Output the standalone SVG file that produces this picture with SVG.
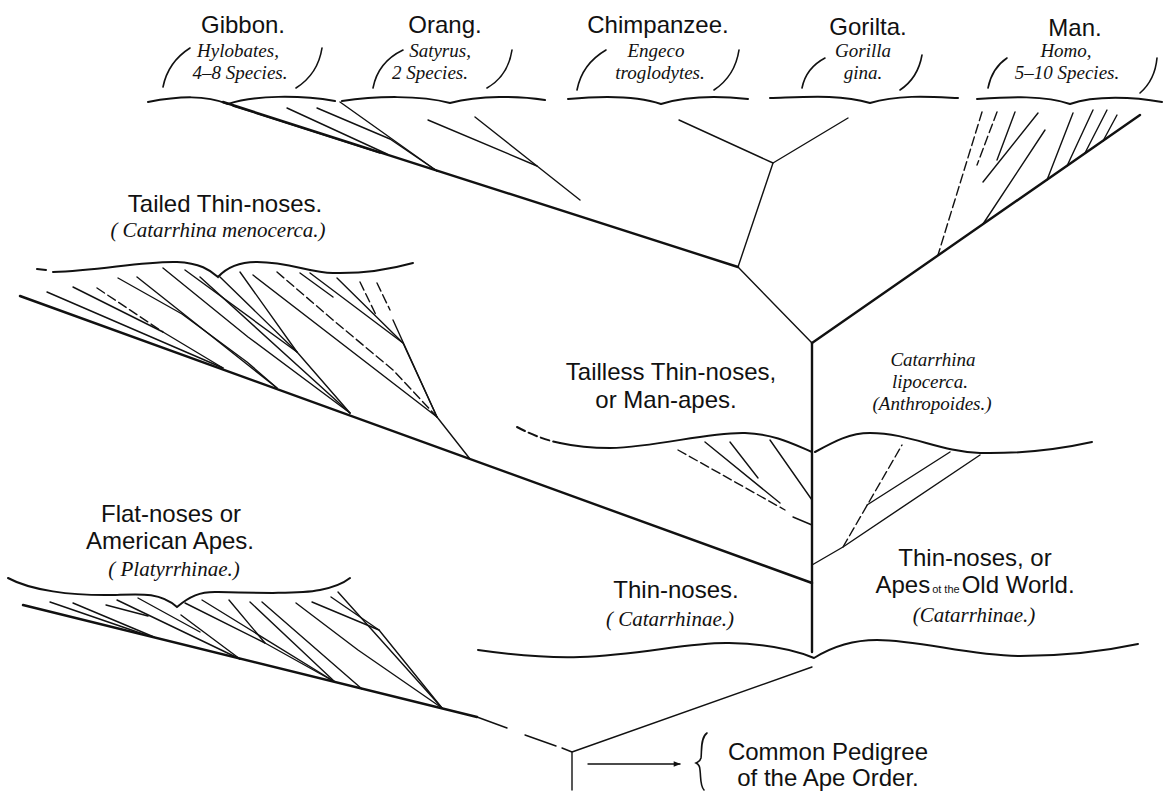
<svg xmlns="http://www.w3.org/2000/svg" width="1165" height="791" viewBox="0 0 1165 791">
<defs>
<style>
.lbl{font-family:"Liberation Sans",Arial,sans-serif;font-size:24px;fill:#111;text-anchor:middle}
.it{font-family:"Liberation Serif","Times New Roman",serif;font-style:italic;font-size:21px;fill:#111;text-anchor:middle}
.sm{font-size:19px}
.ln{fill:none;stroke:#111;stroke-width:1.4;stroke-linecap:round;stroke-linejoin:round}
.th{stroke-width:2.4}
.br{fill:none;stroke:#111;stroke-width:2;stroke-linecap:round}
.pa{fill:none;stroke:#111;stroke-width:1.6;stroke-linecap:round}
.dsh{stroke-dasharray:9 4}
</style>
<marker id="ah" viewBox="0 0 10 10" refX="9" refY="5" markerWidth="9" markerHeight="7" markerUnits="userSpaceOnUse" orient="auto"><path d="M0,1 L10,5 L0,9 z" fill="#111"/></marker>
</defs>
<rect width="1165" height="791" fill="#fff"/>

<g id="gibbon">
<text class="lbl" x="243" y="33">Gibbon.</text>
<text class="it sm" x="238" y="57">Hylobates,</text>
<text class="it sm" x="240" y="79">4–8 Species.</text>
<path class="pa" d="M163,87 Q168,62 190,48"/>
<path class="pa" d="M322,48 Q318,74 296,88"/>
<path class="br" d="M148,102 C180,96 205,95 228,104 C255,95 300,95 335,101"/>
</g>
<g id="orang">
<text class="lbl" x="445" y="33">Orang.</text>
<text class="it sm" x="440" y="57">Satyrus,</text>
<text class="it sm" x="430" y="79">2 Species.</text>
<path class="pa" d="M373,88 Q378,62 403,50"/>
<path class="pa" d="M512,50 Q508,76 487,88"/>
<path class="br" d="M342,101 C375,96 420,95 450,103 C480,95 520,96 545,100"/>
</g>
<g id="chimpanzee">
<text class="lbl" x="658" y="33">Chimpanzee.</text>
<text class="it sm" x="656" y="57">Engeco</text>
<text class="it sm" x="660" y="79">troglodytes.</text>
<path class="pa" d="M577,90 Q582,64 606,50"/>
<path class="pa" d="M739,50 Q735,76 714,90"/>
<path class="br" d="M568,99 C600,96 635,95 661,104 C690,95 720,96 748,99"/>
</g>
<g id="gorilla">
<text class="lbl" x="868" y="35">Gorilta.</text>
<text class="it sm" x="863" y="57">Gorilla</text>
<text class="it sm" x="863" y="79">gina.</text>
<path class="pa" d="M802,88 Q806,68 825,58"/>
<path class="pa" d="M922,55 Q918,78 900,90"/>
<path class="br" d="M770,98 C805,97 840,94 870,103 C900,94 935,97 958,98"/>
</g>
<g id="man">
<text class="lbl" x="1075" y="36">Man.</text>
<text class="it sm" x="1066" y="57">Homo,</text>
<text class="it sm" x="1067" y="79">5–10 Species.</text>
<path class="pa" d="M988,88 Q992,68 1007,58"/>
<path class="pa" d="M1157,58 Q1155,80 1140,93"/>
<path class="br" d="M977,99 C1010,97 1045,95 1070,104 C1095,95 1135,97 1162,102"/>
</g>

<g id="tailed">
<text class="lbl" x="225" y="212">Tailed Thin-noses.</text>
<text class="it" x="218" y="237">( Catarrhina menocerca.)</text>
<path class="br" d="M37,269 L46,270"/>
<path class="br" d="M53,272 C100,271 140,261 177,262 C200,263 210,270 218,277 C228,266 240,262 257,262 C290,262 310,273 333,273 C370,274 395,268 413,263"/>
</g>

<g id="tailless">
<text class="lbl" x="671" y="380">Tailless Thin-noses,</text>
<text class="lbl" x="666" y="408">or Man-apes.</text>
<text class="it sm" x="933" y="366">Catarrhina</text>
<text class="it sm" x="930" y="388">lipocerca.</text>
<text class="it sm" x="932" y="410">(Anthropoides.)</text>
<path class="br dsh" d="M517,427 C530,434 545,440 560,443"/>
<path class="br" d="M560,443 C578,447 595,448 610,448 C660,447 705,432 745,433 C775,434 795,445 812,452"/>
<path class="br" d="M815,452 C835,441 850,433 870,433 C910,433 940,452 980,453 C1030,454 1065,448 1092,442"/>
</g>

<g id="flat-noses">
<text class="lbl" x="171" y="522">Flat-noses or</text>
<text class="lbl" x="170" y="549">American Apes.</text>
<text class="it" x="174" y="576">( Platyrrhinae.)</text>
<path class="br" d="M8,578 C30,590 70,596 115,595 C140,594 160,592 177,607 C190,596 200,592 215,592 C260,593 300,594 320,590 C335,587 345,582 350,578"/>
</g>

<g id="catarrhinae">
<text class="lbl" x="676" y="598">Thin-noses.</text>
<text class="it" x="670" y="626">( Catarrhinae.)</text>
<text class="lbl" x="975" y="566">Thin-noses, or</text>
<text class="lbl" x="975" y="593">Apes<tspan font-size="11" dx="2">ot the</tspan><tspan dx="2">Old World.</tspan></text>
<text class="it" x="974" y="622">(Catarrhinae.)</text>
<path class="br" d="M478,650 C520,656 550,658 580,657 C640,655 690,642 729,643 C770,644 795,650 814,658 C830,648 850,640 877,640 C920,640 970,656 1020,656 C1070,656 1110,650 1138,644"/>
</g>

<g id="common-pedigree">
<text class="lbl" x="828" y="760">Common Pedigree</text>
<text class="lbl" x="828" y="786">of the Ape Order.</text>
<path class="pa" d="M707,733 C700,738 702,752 701,758 C700,762 698,762 696,763 C698,764 700,766 700,770 C701,778 700,786 704,790"/>
</g>

<g id="connectors">
<path class="ln th" d="M223,102 L738,267"/>
<path class="ln" d="M233,106 L380,153"/>
<path class="ln" d="M287,108 L387,154"/>
<path class="ln" d="M317,108 L390,139 L437,171"/>
<path class="ln" d="M340,102 L437,171"/>
<path class="ln" d="M428,120 L537,166"/>
<path class="ln" d="M475,117 L537,166 L580,200"/>
<path class="ln" d="M679,120 L773,163"/>
<path class="ln" d="M848,118 L773,163 L738,267 L812,343"/>
<path class="ln th" d="M812,343 L1140,115"/>
<path class="ln dsh" d="M982,112 L938,255"/>
<path class="ln dsh" d="M997,112 L977,165"/>
<path class="ln" d="M1015,112 L997,160"/>
<path class="ln" d="M1038,113 L983,182"/>
<path class="ln" d="M1045,130 L983,224"/>
<path class="ln" d="M1073,113 L1047,180"/>
<path class="ln" d="M1093,110 L1067,166"/>
<path class="ln" d="M1107,110 L1085,153"/>
<path class="ln" d="M1117,115 L1103,141"/>
<path class="ln th" d="M812,343 L812,652"/>
<path class="ln th" d="M20,296 L812,583"/>
<path class="ln" d="M47,292 L223,368"/>
<path class="ln" d="M73,287 L163,332 L223,368"/>
<path class="ln dsh" d="M97,288 L163,332"/>
<path class="ln" d="M118,278 L182,314 L247,362 L277,388"/>
<path class="ln" d="M137,277 L277,388"/>
<path class="ln" d="M163,268 L248,337 L350,413"/>
<path class="ln" d="M185,270 L297,352 L350,413"/>
<path class="ln" d="M200,277 L350,413"/>
<path class="ln" d="M220,277 L297,352"/>
<path class="ln" d="M240,272 L297,352"/>
<path class="ln" d="M253,275 L437,417 L470,459"/>
<path class="ln dsh" d="M277,272 L333,320 L393,370 L437,417"/>
<path class="ln" d="M300,273 L333,297"/>
<path class="ln" d="M310,273 L403,343 L437,417"/>
<path class="ln" d="M337,278 L403,343"/>
<path class="ln dsh" d="M360,282 L377,317"/>
<path class="ln dsh" d="M377,283 L390,310"/>
<path class="ln" d="M393,320 L437,417"/>
<path class="ln dsh" d="M678,450 L785,510"/>
<path class="ln" d="M793,517 L812,525"/>
<path class="ln" d="M705,442 L780,503"/>
<path class="ln" d="M730,442 L758,478"/>
<path class="ln" d="M770,440 L812,500"/>
<path class="ln" d="M812,565 L843,547 L980,455"/>
<path class="ln dsh" d="M843,547 L902,445"/>
<path class="ln" d="M867,505 L950,452"/>
<path class="ln th" d="M23,605 L477,717"/>
<path class="ln" d="M50,602 L146,635"/>
<path class="ln" d="M73,603 L154,637"/>
<path class="ln" d="M106,605 L148,616"/>
<path class="ln" d="M117,600 L240,659"/>
<path class="ln" d="M138,598 L200,632"/>
<path class="ln" d="M181,615 L240,659"/>
<path class="ln" d="M185,603 L265,643 L335,682"/>
<path class="ln" d="M202,600 L335,682"/>
<path class="ln" d="M229,600 L265,643"/>
<path class="ln" d="M250,602 L335,682"/>
<path class="ln" d="M262,602 L362,689"/>
<path class="ln" d="M296,603 L358,650 L442,708"/>
<path class="ln" d="M312,602 L379,630"/>
<path class="ln" d="M331,597 L379,630 L442,708"/>
<path class="ln" d="M338,592 L442,708"/>
<path class="ln" d="M477,717 L507,728 M525,735 L556,746 M562,748 L572,752"/>
<path class="ln" d="M812,667 L572,752"/>
<path class="ln" d="M572,753 L572,790"/>
<path class="ln" d="M588,764 L680,764" marker-end="url(#ah)"/>
</g>
</svg>
